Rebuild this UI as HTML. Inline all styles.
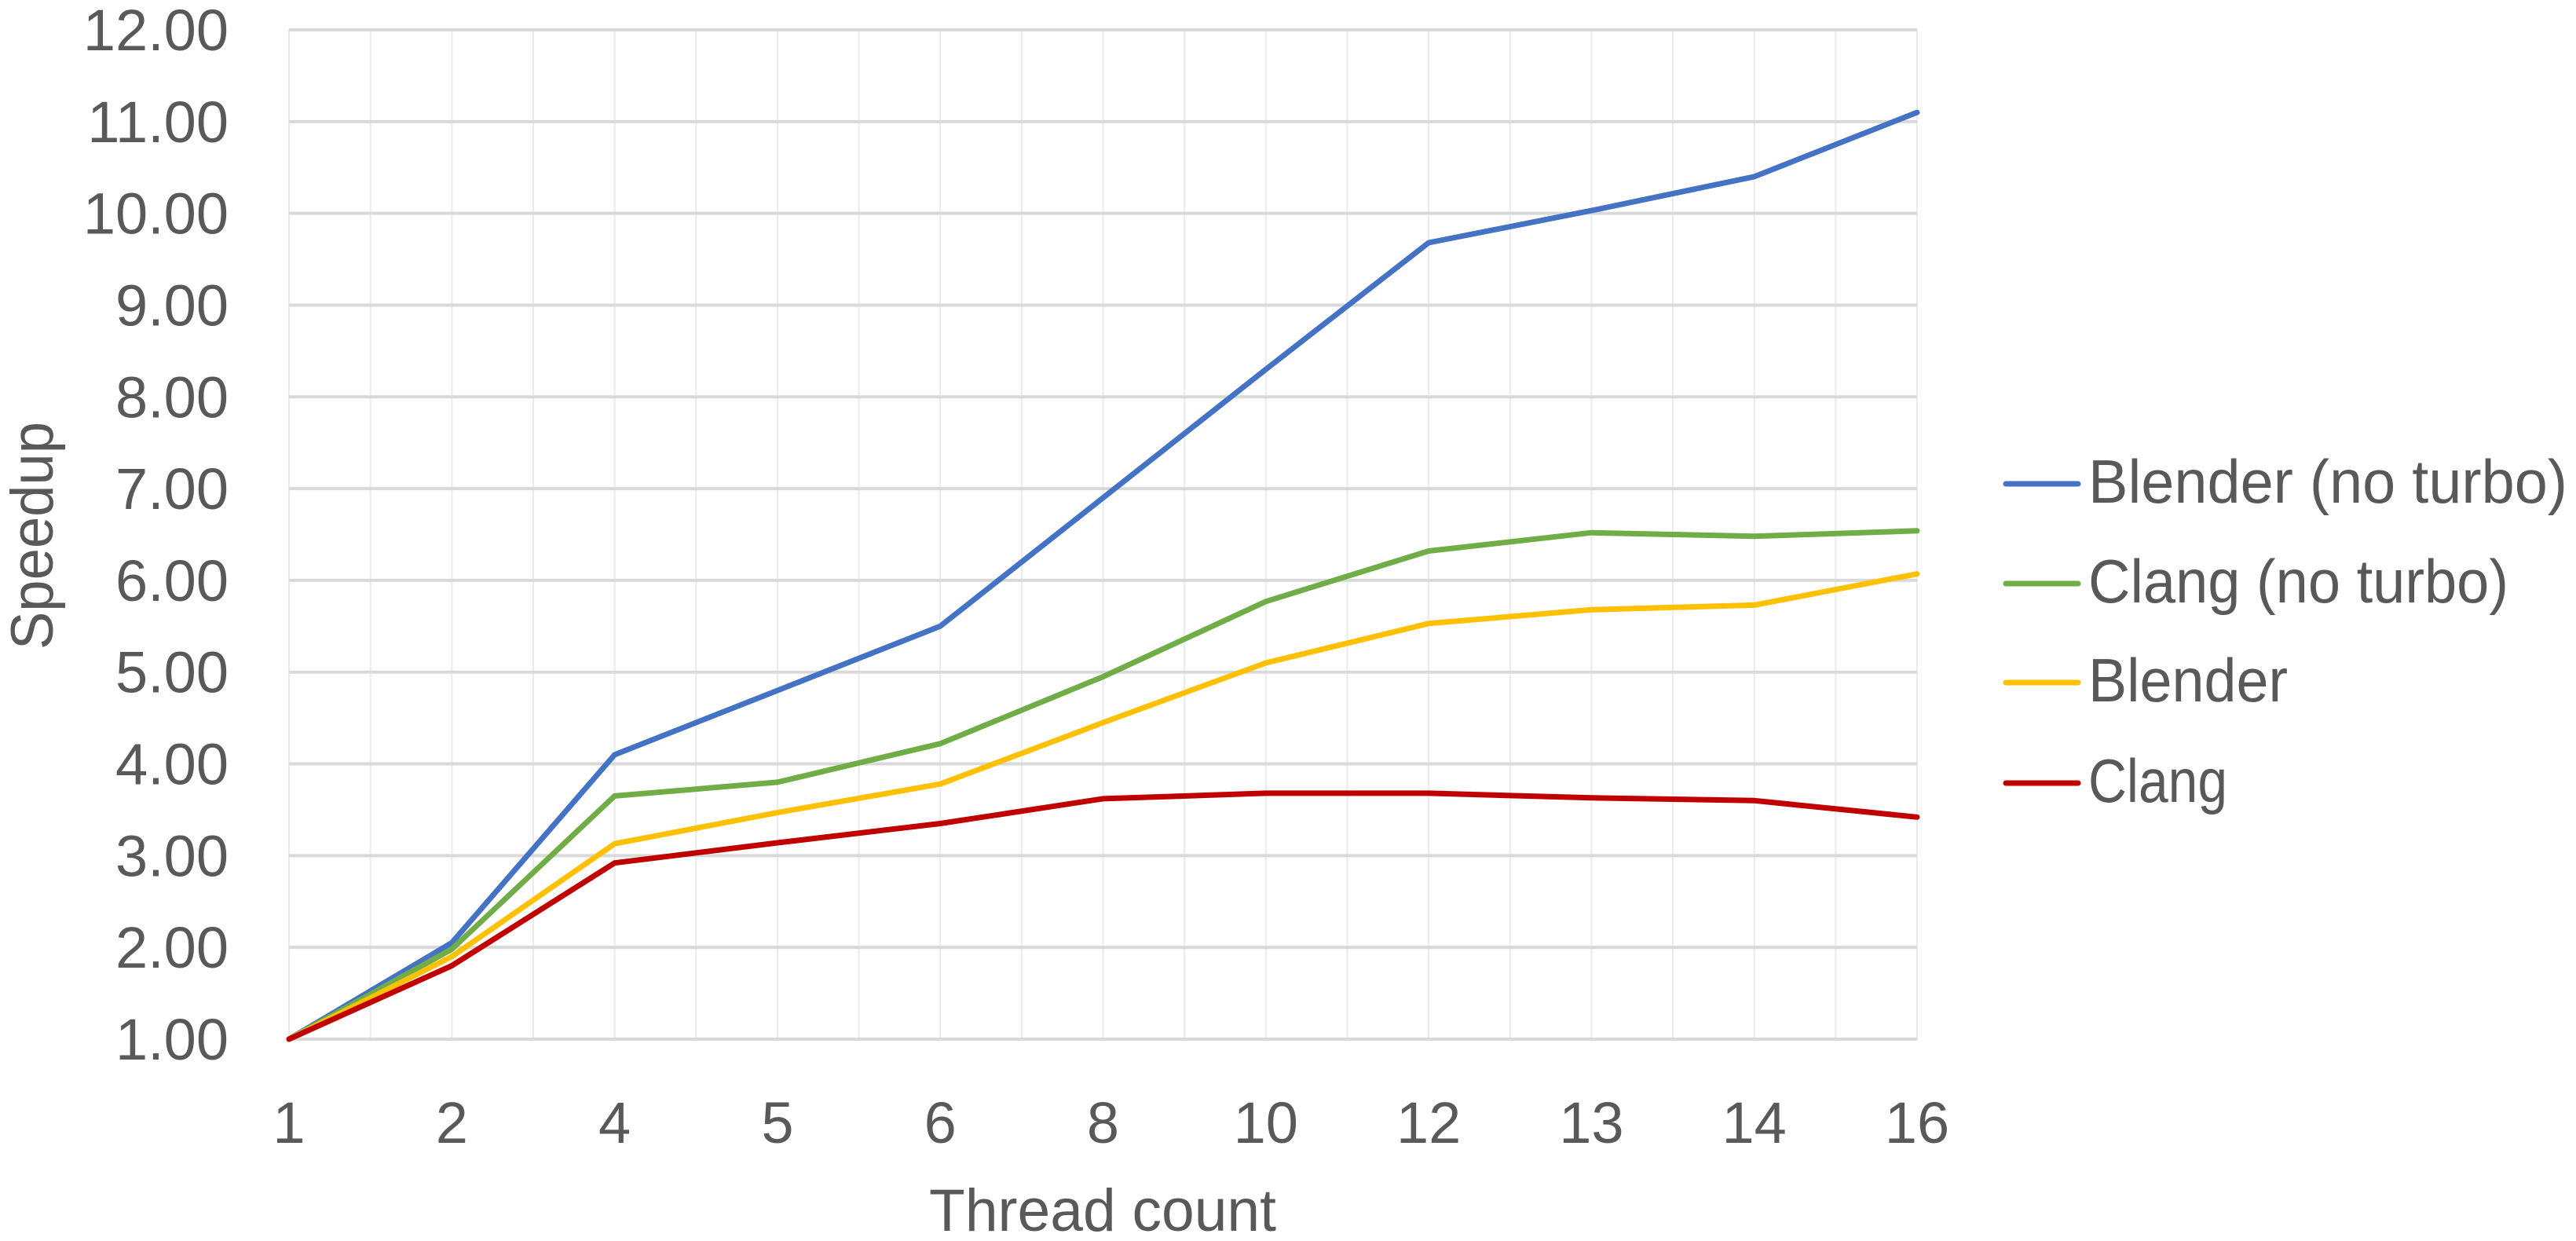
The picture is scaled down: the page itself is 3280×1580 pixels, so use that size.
<!DOCTYPE html>
<html><head><meta charset="utf-8"><style>html,body{margin:0;padding:0;background:#fff}svg{display:block}</style></head>
<body>
<svg width="3280" height="1580" viewBox="0 0 3280 1580" xmlns="http://www.w3.org/2000/svg" font-family="'Liberation Sans', sans-serif" fill="#595959">
<rect width="3280" height="1580" fill="#fff"/>
<g id="vgrid" stroke="#ebebeb" stroke-width="2"></g>
<g id="hgrid" stroke="#d9d9d9" stroke-width="4"></g>
<g id="ylab" font-size="74" text-anchor="end"></g>
<g id="xlab" font-size="74" text-anchor="middle"></g>
<g id="series" fill="none" stroke-width="7" stroke-linejoin="round" stroke-linecap="round"></g>
<text x="1183" y="1567" font-size="76" textLength="442" lengthAdjust="spacingAndGlyphs">Thread count</text>
<text transform="translate(67,827) rotate(-90)" font-size="76" textLength="290" lengthAdjust="spacingAndGlyphs">Speedup</text>
<g stroke-width="7" stroke-linecap="round">
<line x1="2554" y1="616" x2="2646" y2="616" stroke="#4472C4"/>
<line x1="2554" y1="743" x2="2646" y2="743" stroke="#70AD47"/>
<line x1="2554" y1="869" x2="2646" y2="869" stroke="#FFC000"/>
<line x1="2554" y1="997" x2="2646" y2="997" stroke="#C00000"/>
</g>
<g font-size="78" lengthAdjust="spacingAndGlyphs">
<text x="2659" y="640" textLength="610" lengthAdjust="spacingAndGlyphs">Blender (no turbo)</text>
<text x="2659" y="767" textLength="535" lengthAdjust="spacingAndGlyphs">Clang (no turbo)</text>
<text x="2659" y="893" textLength="254" lengthAdjust="spacingAndGlyphs">Blender</text>
<text x="2659" y="1021" textLength="177" lengthAdjust="spacingAndGlyphs">Clang</text>
</g>
</svg>
<script>
var NS="http://www.w3.org/2000/svg";
function el(p,t,a,txt){var e=document.createElementNS(NS,t);for(var k in a)e.setAttribute(k,a[k]);if(txt!=null)e.textContent=txt;document.getElementById(p).appendChild(e);}
var L=368,R=2441,T=38,B=1323;
var step=(R-L)/10, ys=(B-T)/11;
for(var i=0;i<=20;i++){var x=L+i*step/2;el("vgrid","line",{x1:x,y1:T,x2:x,y2:B});}
for(var v=1;v<=12;v++){var y=B-(v-1)*ys;el("hgrid","line",{x1:L,y1:y,x2:R,y2:y});el("ylab","text",{x:291,y:y+26},v.toFixed(2));}
var cats=[1,2,4,5,6,8,10,12,13,14,16];
cats.forEach(function(c,i){el("xlab","text",{x:L+i*step,y:1455},String(c));});
var data=[
["#4472C4",[1,2.05,4.1,4.8,5.5,6.9,8.3,9.68,10.03,10.4,11.1]],
["#70AD47",[1,1.98,3.65,3.8,4.22,4.95,5.77,6.32,6.52,6.48,6.54]],
["#FFC000",[1,1.9,3.13,3.47,3.78,4.45,5.1,5.53,5.68,5.73,6.07]],
["#C00000",[1,1.8,2.92,3.14,3.35,3.62,3.68,3.68,3.63,3.6,3.42]]];
data.forEach(function(d){var pts=d[1].map(function(v,i){return (L+i*step).toFixed(1)+","+(B-(v-1)*ys).toFixed(1);}).join(" ");el("series","polyline",{points:pts,stroke:d[0]});});
</script>
</body></html>
